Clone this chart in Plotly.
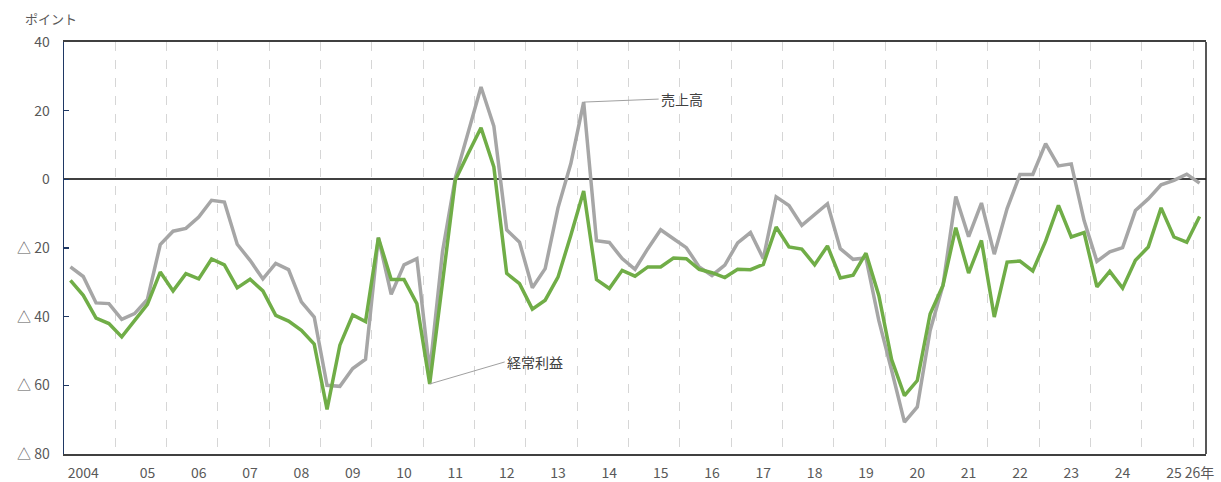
import plotly.graph_objects as go

# Quarterly categories 2004Q1 .. 2026Q1
years = list(range(2004, 2027))
quarters = [f"{y}Q{q}" for y in years for q in range(1, 5)][:89]

# 売上高 (sales) DI
sales = [
    -25.5, -28.3, -36.0, -36.2, -40.8, -39.1, -35.0, -19.0, -15.1, -14.3,
    -11.0, -6.1, -6.6, -18.9, -23.6, -29.0, -24.5, -26.3, -35.7, -40.1,
    -60.0, -60.3, -55.1, -52.4, -17.0, -33.5, -24.9, -23.1, -56.0, -21.0,
    0.5, 13.5, 26.9, 15.5, -14.7, -18.3, -31.6, -26.0, -8.3, 4.6,
    22.5, -17.9, -18.4, -23.1, -26.2, -20.2, -14.7, -17.3, -19.9, -25.5,
    -28.0, -25.0, -18.5, -15.5, -23.1, -5.1, -7.6, -13.4, -10.3, -7.1,
    -20.2, -23.3, -22.9, -41.1, -55.6, -70.7, -66.3, -44.0, -30.9, -5.0,
    -16.7, -6.9, -21.8, -8.5, 1.4, 1.4, 10.4, 3.9, 4.5, -12.0,
    -23.9, -21.1, -19.9, -9.1, -5.7, -1.6, -0.3, 1.5, -1.1,
]

# 経常利益 (ordinary profit) DI
profit = [
    -29.4, -33.8, -40.4, -42.0, -45.9, -41.1, -36.4, -27.0, -32.5, -27.5,
    -29.0, -23.2, -24.9, -31.6, -29.1, -32.5, -39.6, -41.3, -44.0, -48.0,
    -67.0, -48.3, -39.5, -41.4, -17.0, -29.2, -29.2, -36.2, -59.6, -30.0,
    -0.2, 7.5, 15.0, 3.6, -27.4, -30.4, -37.8, -35.2, -28.5, -16.3,
    -3.4, -29.2, -31.8, -26.5, -28.2, -25.5, -25.5, -22.9, -23.1, -26.2,
    -27.2, -28.6, -26.2, -26.3, -24.8, -13.9, -19.7, -20.3, -24.9, -19.4,
    -28.7, -27.9, -21.5, -33.8, -52.5, -63.0, -58.6, -39.2, -30.9, -14.1,
    -27.3, -17.8, -40.1, -24.1, -23.8, -26.7, -18.0, -7.6, -16.8, -15.5,
    -31.3, -26.8, -31.7, -23.6, -19.7, -8.3, -16.8, -18.3, -10.8,
]

# x-axis labels and the quarter each label sits under
tick_labels = ["2004", "05", "06", "07", "08", "09", "10", "11", "12", "13", "14",
               "15", "16", "17", "18", "19", "20", "21", "22", "23", "24", "25", "26年"]
tick_quarters = ["2004Q2"] + [f"{y}Q3" for y in range(2005, 2026)] + ["2026Q1"]

y_tickvals = [40, 20, 0, -20, -40, -60, -80]
y_ticktext = ["40", "20", "0", "△ 20", "△ 40", "△ 60", "△ 80"]

x = list(range(len(quarters)))
tick_pos = [quarters.index(q) for q in tick_quarters]

FONT = "Noto Sans CJK JP"
TXT = "#595959"

fig = go.Figure()
fig.add_trace(go.Scatter(x=x, y=sales, mode="lines", name="売上高",
                         line=dict(color="#A6A6A6", width=3.5), hoverinfo="skip"))
fig.add_trace(go.Scatter(x=x, y=profit, mode="lines", name="経常利益",
                         line=dict(color="#70AD47", width=3.5), hoverinfo="skip"))

fig.update_layout(
    width=1221, height=482,
    margin=dict(l=64, r=15, t=42, b=28, autoexpand=False),
    paper_bgcolor="white", plot_bgcolor="white",
    showlegend=False,
    font=dict(family=FONT, size=14, color=TXT),
    xaxis=dict(
        automargin=False,
        range=[-0.5, len(quarters) - 0.5],
        tickmode="array", tickvals=tick_pos, ticktext=tick_labels,
        showgrid=False, zeroline=False,
        showline=True, linecolor="#404040", linewidth=2, mirror=True,
        ticks="", ticklabelstandoff=5,
        tickfont=dict(family=FONT, size=14, color=TXT),
        minor=dict(tick0=-0.5, dtick=4, showgrid=True, gridcolor="#D6D6D6",
                   griddash="dash", gridwidth=1, ticks=""),
    ),
    yaxis=dict(
        automargin=False,
        range=[-80, 40],
        tickmode="array", tickvals=y_tickvals, ticktext=y_ticktext,
        showgrid=False,
        zeroline=True, zerolinecolor="#404040", zerolinewidth=2,
        showline=True, linecolor="#1F3864", linewidth=1.5,
        ticks="inside", ticklen=5, tickcolor="#1F3864", tickwidth=1.5,
        ticklabelstandoff=10,
        tickfont=dict(family=FONT, size=14, color=TXT),
    ),
)

# right border of the frame
fig.add_shape(type="line", xref="paper", yref="paper", x0=1, x1=1, y0=0, y1=1,
              line=dict(color="#202020", width=1.5))

# unit label
fig.add_annotation(text="ポイント", xref="paper", yref="paper",
                   x=-0.0355, y=1.058, xanchor="left", yanchor="middle",
                   showarrow=False, font=dict(family=FONT, size=13, color=TXT))

# series labels with leader lines
i_s = sales.index(max(sales[35:45]))
fig.add_annotation(text="売上高", x=i_s, y=sales[i_s], xref="x", yref="y",
                   ax=75, ay=-3, xanchor="left", yanchor="middle",
                   showarrow=True, arrowhead=0, arrowwidth=1, arrowcolor="#A0A0A0",
                   standoff=0, startstandoff=0,
                   font=dict(family=FONT, size=14, color="#404040"))
i_p = profit.index(min(profit[25:32]))
fig.add_annotation(text="経常利益", x=i_p, y=profit[i_p], xref="x", yref="y",
                   ax=75, ay=-22, xanchor="left", yanchor="middle",
                   showarrow=True, arrowhead=0, arrowwidth=1, arrowcolor="#A0A0A0",
                   standoff=0, startstandoff=0,
                   font=dict(family=FONT, size=14, color="#404040"))

fig.write_html("out.html",
               config={"displayModeBar": False, "staticPlot": True},
               post_script="document.body.style.margin='0';document.body.style.overflow='hidden';")
